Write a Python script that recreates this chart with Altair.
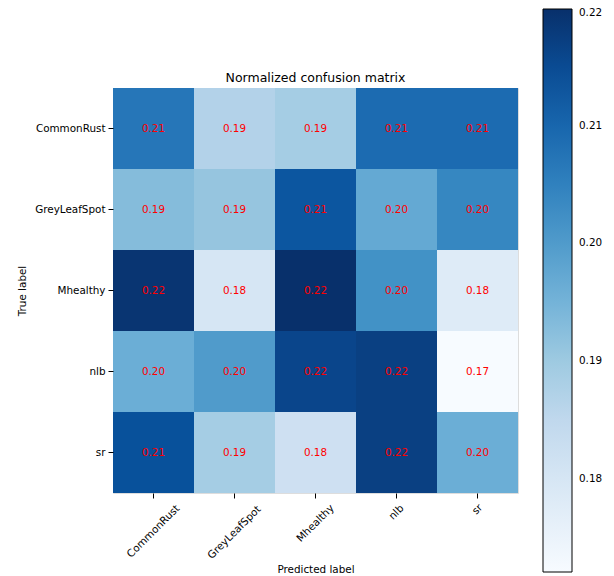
import altair as alt
import pandas as pd

classes = ["CommonRust", "GreyLeafSpot", "Mhealthy", "nlb", "sr"]
row_commonrust = [0.207, 0.187, 0.189, 0.209, 0.209]
row_greyleafspot = [0.193, 0.191, 0.213, 0.197, 0.204]
row_mhealthy = [0.219, 0.180, 0.2199, 0.202, 0.178]
row_nlb = [0.196, 0.200, 0.216, 0.217, 0.1721]
row_sr = [0.214, 0.189, 0.182, 0.217, 0.196]
rows = [row_commonrust, row_greyleafspot, row_mhealthy, row_nlb, row_sr]
legend_ticks = [0.18, 0.19, 0.20, 0.21, 0.22]

# style: distance from the tick end to the centre of each rotated x label
x_label_pad = {"CommonRust": 33, "GreyLeafSpot": 34, "Mhealthy": 25, "nlb": 14, "sr": 11}

records = []
for i, t in enumerate(classes):
    for j, p in enumerate(classes):
        records.append({"true": t, "pred": p, "value": rows[i][j]})
df = pd.DataFrame(records)

vmin = min(min(r) for r in rows)
vmax = max(max(r) for r in rows)
blues = ["#f7fbff", "#deebf7", "#c6dbef", "#9ecae1", "#6baed6",
         "#4292c6", "#2171b5", "#08519c", "#08306b"]
stops = [vmin + (vmax - vmin) * k / 8 for k in range(9)]

font = "DejaVu Sans"
fs = 10.4
base = alt.Chart(df)

pad_conditions = [
    {"test": f"datum.value == '{name}'", "value": pad}
    for name, pad in x_label_pad.items()
]

rect = base.mark_rect().encode(
    x=alt.X("pred:N", sort=classes, title="Predicted label",
            scale=alt.Scale(paddingInner=0, paddingOuter=0),
            axis=alt.Axis(labelAngle=-45, labelAlign="center", labelBaseline="middle",
                          labelFont=font, labelFontSize=fs, labelColor="#000",
                          tickSize=5, tickColor="#000", domain=False,
                          titleFont=font, titleFontSize=fs, titleFontWeight="normal",
                          titleColor="#000", titlePadding=4,
                          labelPadding={"condition": pad_conditions, "value": 10})),
    y=alt.Y("true:N", sort=classes, title="True label",
            scale=alt.Scale(paddingInner=0, paddingOuter=0),
            axis=alt.Axis(labelFont=font, labelFontSize=fs, labelColor="#000",
                          tickSize=5, tickColor="#000", domain=False,
                          titleFont=font, titleFontSize=fs, titleFontWeight="normal",
                          titleColor="#000", titlePadding=7, labelPadding=3)),
    color=alt.Color("value:Q",
                    scale=alt.Scale(domain=stops, range=blues),
                    legend=alt.Legend(orient="none", legendX=430, legendY=-79,
                                      direction="vertical", title=None,
                                      gradientLength=563, gradientThickness=29,
                                      gradientStrokeColor="#000", gradientStrokeWidth=1,
                                      values=legend_ticks, format=".2f",
                                      labelFont=font, labelFontSize=fs, labelColor="#000",
                                      labelOffset=7, padding=0)),
)

text = base.mark_text(color="red", font=font, fontSize=fs).encode(
    x=alt.X("pred:N", sort=classes),
    y=alt.Y("true:N", sort=classes),
    text=alt.Text("value:Q", format=".2f"),
)

chart = (rect + text).properties(
    width=405, height=405,
    title=alt.TitleParams("Normalized confusion matrix", font=font, fontSize=12.5,
                          fontWeight="normal", color="#000", offset=6, dy=81),
    autosize=alt.AutoSizeParams(type="none"),
    padding={"left": 113, "top": 88, "right": 96, "bottom": 83},
).configure_view(stroke="#000", strokeWidth=1).configure(background="white")

chart.save("out.html", embed_options={"renderer": "svg", "actions": False})
